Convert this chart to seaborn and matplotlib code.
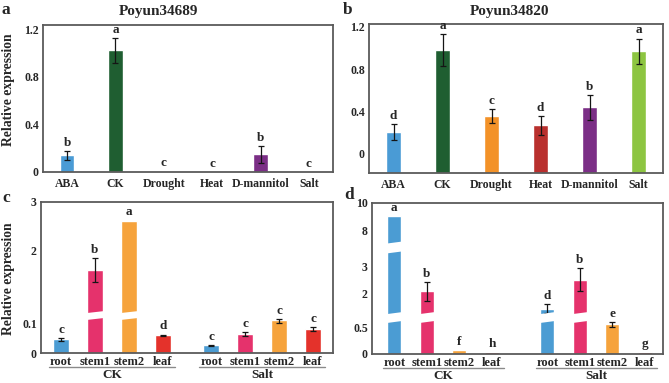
import matplotlib
matplotlib.use("Agg")
import matplotlib.pyplot as plt
import matplotlib.transforms as mtransforms
import numpy as np
import pandas as pd
import seaborn as sns
from matplotlib.patches import Polygon

# ---- data ----
TREATMENTS = ["ABA", "CK", "Drought", "Heat", "D-mannitol", "Salt"]
TREATMENT_COLORS = ["#4a9bd5", "#1f5e31", "#f39228", "#b9302e", "#7b2e86", "#8dc541"]

A_TITLE = "Poyun34689"
A_MEAN = [0.14, 1.024, 0.004, 0.003, 0.148, 0.003]
A_ERR = [0.035, 0.106, 0.0, 0.0, 0.07, 0.0]
A_LETTERS = ["b", "a", "c", "c", "b", "c"]

B_TITLE = "Poyun34820"
B_MEAN = [0.21, 0.98, 0.36, 0.27, 0.44, 0.97]
B_ERR = [0.074, 0.148, 0.068, 0.09, 0.118, 0.12]
B_LETTERS = ["d", "a", "c", "d", "b", "a"]

GROUPS = ["CK", "Salt"]
TISSUES = ["root", "stem1", "stem2", "leaf"]
TISSUE_COLORS = ["#4b9cd3", "#e5326c", "#f6a33c", "#e4322b"]

# CK root..leaf, then Salt root..leaf
C_MEAN = [0.046, 1.61, 2.62, 0.059, 0.026, 0.064, 0.11, 0.08]
C_ERR = [0.005, 0.24, 0.0, 0.003, 0.002, 0.007, 0.008, 0.007]
C_LETTERS = ["c", "b", "a", "d", "c", "c", "c", "c"]

D_MEAN = [9.08, 2.06, 0.08, 0.045, 1.41, 2.51, 0.56, 0.045]
D_ERR = [0.0, 0.36, 0.0, 0.0, 0.16, 0.44, 0.06, 0.0]
D_LETTERS = ["a", "b", "f", "h", "d", "b", "e", "g"]

# ---- style ----
sns.set_theme(style="white")
plt.rcParams["font.family"] = ["Liberation Serif", "DejaVu Serif"]
plt.rcParams["font.weight"] = "bold"
plt.rcParams["axes.labelweight"] = "bold"

W, H = 669, 383
FRAME = "#5a5a5a"


def px_rect(left, top, right, bottom):
    return [left / W, 1 - bottom / H, (right - left) / W, (bottom - top) / H]


def style_axes(ax):
    for sp in ax.spines.values():
        sp.set_color(FRAME)
        sp.set_linewidth(1.3)
    ax.tick_params(length=0, pad=3, labelsize=8.5)
    ax.set_xlabel("")
    ax.set_ylabel("")


def add_errorbars(ax, xs, means, errs):
    xs, means, errs = np.asarray(xs), np.asarray(means), np.asarray(errs)
    keep = errs > 0
    ax.errorbar(xs[keep], means[keep], yerr=errs[keep], fmt="none",
                ecolor="#151515", elinewidth=0.9, capsize=2.2,
                capthick=0.9, zorder=3)


def add_letters(ax, xs, means, errs, letters):
    for x, m, e, t in zip(xs, means, errs, letters):
        ax.annotate(t, (x, m + e), xytext=(0, 1.5), textcoords="offset points",
                    ha="center", va="bottom", fontsize=9.5, fontweight="bold")


def treatment_panel(ax, means, errs, letters, ylim):
    sns.barplot(x=TREATMENTS, y=means, hue=TREATMENTS, palette=TREATMENT_COLORS,
                saturation=1, width=0.3, errorbar=None, legend=False, ax=ax)
    ax.set_ylim(*ylim)
    ax.set_xlim(-0.5, len(TREATMENTS) - 0.5)
    if ylim[0] < 0:
        # bars in the original run down to the axis line
        for bar in ax.patches:
            bar.set_height(bar.get_height() - ylim[0])
            bar.set_y(ylim[0])
    xs = np.arange(len(TREATMENTS))
    add_errorbars(ax, xs, means, errs)
    add_letters(ax, xs, means, errs, letters)
    ax.set_yticks([0, 0.4, 0.8, 1.2], ["0", "0.4", "0.8", "1.2"])
    style_axes(ax)
    ax.tick_params(axis="x", pad=4)


def broken_scale(knots_y, knots_v):
    ky = np.asarray(knots_y, float)
    kv = np.asarray(knots_v, float)
    s0 = (kv[1] - kv[0]) / (ky[1] - ky[0])
    s1 = (kv[-1] - kv[-2]) / (ky[-1] - ky[-2])
    ky = np.concatenate([[ky[0] - 1000], ky, [ky[-1] + 1000]])
    kv = np.concatenate([[kv[0] - 1000 * s0], kv, [kv[-1] + 1000 * s1]])

    def fwd(y):
        return np.interp(np.asarray(y, float), ky, kv)

    def inv(v):
        return np.interp(np.asarray(v, float), kv, ky)

    return fwd, inv


def tissue_panel(ax, means, errs, letters, knots_y, knots_v, breaks, yticks,
                 xlim, width, gap):
    df = pd.DataFrame({
        "group": np.repeat(GROUPS, len(TISSUES)),
        "tissue": TISSUES * len(GROUPS),
        "value": means,
    })
    sns.barplot(data=df, x="group", y="value", hue="tissue", order=GROUPS,
                hue_order=TISSUES, palette=TISSUE_COLORS, saturation=1,
                width=width, gap=gap, errorbar=None, legend=False, ax=ax)
    fwd, inv = broken_scale(knots_y, knots_v)
    ax.set_yscale("function", functions=(fwd, inv))
    ylim = (knots_y[0], knots_y[-1])
    ax.set_ylim(*ylim)
    ax.set_xlim(*xlim)

    # bar centres, in the same order as the data lists
    centres = np.zeros(len(means))
    halfw = np.zeros(len(means))
    for ti, cont in enumerate(ax.containers):
        for bar in cont.patches:
            cx = bar.get_x() + bar.get_width() / 2
            gi = int(round(cx))
            k = gi * len(TISSUES) + ti
            centres[k] = cx
            halfw[k] = bar.get_width() / 2

    add_errorbars(ax, centres, means, errs)
    add_letters(ax, centres, means, errs, letters)

    # white slanted gaps where the axis is broken
    v0, v1 = fwd(ylim[0]), fwd(ylim[1])
    frac = lambda y: (fwd(y) - v0) / (v1 - v0)
    tr = mtransforms.blended_transform_factory(ax.transData, ax.transAxes)
    slant = 0.007
    for lo, hi in breaks:
        flo, fhi = frac(lo), frac(hi)
        for cx, hw, m in zip(centres, halfw, means):
            if m > lo:
                x0, x1 = cx - hw * 1.15, cx + hw * 1.15
                poly = Polygon([(x0, flo - slant), (x1, flo + slant),
                                (x1, fhi + slant), (x0, fhi - slant)],
                               closed=True, transform=tr, facecolor="white",
                               edgecolor="none", zorder=3.5)
                ax.add_patch(poly)

    ax.set_yticks(yticks, [f"{t:g}" for t in yticks])
    ax.set_xticks(centres, TISSUES * len(GROUPS))
    style_axes(ax)
    ax.tick_params(axis="x", labelsize=9, pad=2.5)

    # group underline and group name below the tissue labels
    slot = width / len(TISSUES)
    for gi, g in enumerate(GROUPS):
        gc = centres[gi * len(TISSUES):(gi + 1) * len(TISSUES)]
        ax.plot([gc.min() - 0.36 * slot, gc.max() + 0.36 * slot], [-0.093, -0.093],
                transform=tr, color="#8a8a8a", lw=1.0, clip_on=False)
        ax.text(gc.mean(), -0.145, g, transform=tr, ha="center", va="center",
                fontsize=9.5, fontweight="bold")


fig = plt.figure(figsize=(W / 100, H / 100), dpi=100)

ax_a = fig.add_axes(px_rect(43, 25, 333, 172))
treatment_panel(ax_a, A_MEAN, A_ERR, A_LETTERS, (0, 1.236))
ax_a.set_ylabel("Relative expression", fontsize=9.8)
ax_a.yaxis.set_label_coords(-0.095, 0.56)

ax_b = fig.add_axes(px_rect(369, 24, 663, 173))
treatment_panel(ax_b, B_MEAN, B_ERR, B_LETTERS, (-0.18, 1.227))

ax_c = fig.add_axes(px_rect(41, 202, 333, 353))
tissue_panel(ax_c, C_MEAN, C_ERR, C_LETTERS,
             knots_y=[0, 0.114, 0.743, 3.0], knots_v=[0, 103, 124, 458],
             breaks=[(0.114, 0.743)], yticks=[0, 0.1, 2, 3],
             xlim=(-0.472, 1.472), width=0.903, gap=0.52)
ax_c.set_ylabel("Relative expression", fontsize=9.8)
ax_c.yaxis.set_label_coords(-0.088, 0.49)

ax_d = fig.add_axes(px_rect(372, 203, 663, 354))
tissue_panel(ax_d, D_MEAN, D_ERR, D_LETTERS,
             knots_y=[0, 0.599, 1.2375, 3.54, 7.11, 10.0],
             knots_v=[0, 97, 124, 308, 338, 458],
             breaks=[(0.599, 1.2375), (3.54, 7.11)],
             yticks=[0, 0.5, 2, 3, 8, 10],
             xlim=(-0.465, 1.437), width=0.851, gap=0.57)

fig.text(158 / W, 1 - 12 / H, A_TITLE, ha="center", va="center",
         fontsize=11, fontweight="bold")
fig.text(510 / W, 1 - 11 / H, B_TITLE, ha="center", va="center",
         fontsize=11, fontweight="bold")

for lab, x, y in [("a", 2, 2), ("b", 343, 2), ("c", 2, 190), ("d", 344, 187)]:
    fig.text(x / W, 1 - y / H, lab, ha="left", va="top", fontsize=12.5,
             fontweight="bold")

fig.savefig("out.png", dpi=100)
